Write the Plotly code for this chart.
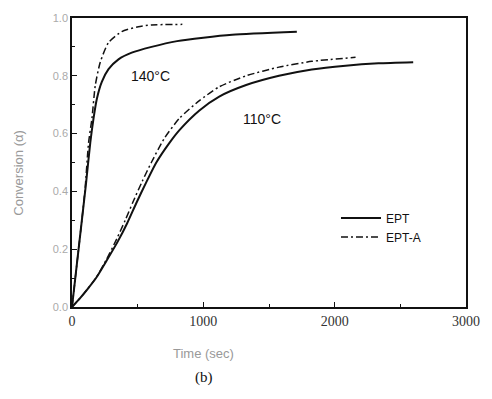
import plotly.graph_objects as go

# 140 C curves
t140_ept = [0, 25, 50, 75, 105, 139, 164, 189, 227, 278, 354, 455, 606, 800, 1000, 1220, 1712]
a140_ept = [0, 0.10, 0.20, 0.30, 0.42, 0.568, 0.653, 0.72, 0.779, 0.823, 0.857, 0.88, 0.90, 0.92, 0.932, 0.942, 0.952]
t140_epta = [0, 25, 50, 75, 100, 126, 152, 177, 215, 278, 379, 505, 606, 840]
a140_epta = [0, 0.10, 0.20, 0.30, 0.41, 0.568, 0.653, 0.766, 0.847, 0.915, 0.953, 0.97, 0.976, 0.978]
# 110 C curves
t110_ept = [0, 60, 120, 187, 263, 350, 420, 490, 566, 642, 742, 818, 970, 1121, 1326, 1576, 1826, 2083, 2333, 2598]
a110_ept = [0, 0.03, 0.063, 0.103, 0.16, 0.228, 0.29, 0.36, 0.432, 0.50, 0.568, 0.612, 0.68, 0.728, 0.768, 0.80, 0.822, 0.835, 0.843, 0.847]
t110_epta = [0, 60, 120, 187, 263, 340, 405, 465, 535, 604, 705, 818, 970, 1121, 1326, 1576, 1826, 2159]
a110_epta = [0, 0.03, 0.063, 0.104, 0.165, 0.235, 0.30, 0.364, 0.435, 0.50, 0.585, 0.653, 0.714, 0.762, 0.80, 0.83, 0.85, 0.864]

x_ticks = [0, 1000, 2000, 3000]
y_ticks = [0.0, 0.2, 0.4, 0.6, 0.8, 1.0]

solid = dict(color="#111111", width=2, shape="spline", smoothing=0.6)
dashdot = dict(color="#111111", width=1.5, dash="7px,3px,2px,3px", shape="spline", smoothing=0.6)

fig = go.Figure()
fig.add_trace(go.Scatter(x=t140_ept, y=a140_ept, mode="lines", line=solid,
                         name="EPT", showlegend=True))
fig.add_trace(go.Scatter(x=t140_epta, y=a140_epta, mode="lines", line=dashdot,
                         name="EPT-A", showlegend=True))
fig.add_trace(go.Scatter(x=t110_ept, y=a110_ept, mode="lines", line=solid,
                         name="EPT", showlegend=False))
fig.add_trace(go.Scatter(x=t110_epta, y=a110_epta, mode="lines", line=dashdot,
                         name="EPT-A", showlegend=False))

W, H, L, R, T, B = 492, 399, 72, 23, 13, 92
pw, ph = W - L - R, H - T - B


def px_x(p):
    return (p - L) / pw


def px_y(p):
    return (H - B - p) / ph


fig.update_layout(
    width=W, height=H,
    margin=dict(l=L, r=R, t=T, b=B),
    paper_bgcolor="white", plot_bgcolor="white",
    font=dict(family="Liberation Sans, Arial, sans-serif", color="#111"),
    legend=dict(x=px_x(338), y=px_y(226), xanchor="left", yanchor="middle",
                bgcolor="rgba(0,0,0,0)", font=dict(size=12, color="#111"),
                itemwidth=40),
    annotations=[
        dict(x=600, y=0.80, xref="x", yref="y", text="140°C", showarrow=False,
             font=dict(size=14, color="#111")),
        dict(x=1445, y=0.652, xref="x", yref="y", text="110°C", showarrow=False,
             font=dict(size=14, color="#111")),
        dict(x=px_x(205), y=px_y(354), xref="paper", yref="paper", text="Time (sec)",
             showarrow=False, xanchor="center", yanchor="middle",
             font=dict(size=13, color="#999")),
        dict(x=px_x(205), y=px_y(379), xref="paper", yref="paper", text="(b)",
             showarrow=False, xanchor="center", yanchor="middle",
             font=dict(size=15, color="#111", family="Liberation Serif, serif")),
        dict(x=px_x(18), y=px_y(170), xref="paper", yref="paper", text="Conversion (α)",
             showarrow=False, textangle=-90, xanchor="center", yanchor="middle",
             font=dict(size=13, color="#999")),
    ],
)

fig.update_xaxes(range=[0, 3000], tickvals=x_ticks, ticktext=[str(v) for v in x_ticks],
                 ticks="inside", ticklen=5, tickcolor="#111", showline=True, linecolor="#111",
                 linewidth=1.5, mirror=True, showgrid=False, zeroline=False,
                 tickfont=dict(family="Liberation Serif, serif", size=14, color="#333"),
                 minor=dict(dtick=500, ticks="inside", ticklen=3, tickcolor="#111"))
fig.update_yaxes(range=[0, 1.0], tickvals=y_ticks, ticktext=[f"{v:.1f}" for v in y_ticks],
                 ticks="inside", ticklen=5, tickcolor="#111", showline=True, linecolor="#111",
                 linewidth=1.5, mirror=True, showgrid=False, zeroline=False,
                 tickfont=dict(size=11, color="#aaa"),
                 minor=dict(dtick=0.1, ticks="inside", ticklen=3, tickcolor="#111"))

fig.write_html("out.html")
